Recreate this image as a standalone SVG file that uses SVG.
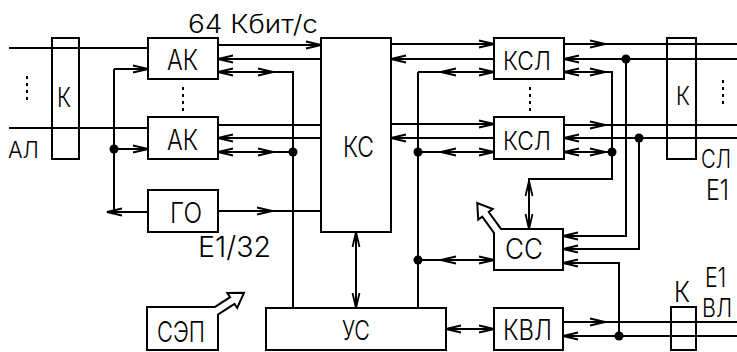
<svg xmlns="http://www.w3.org/2000/svg" xmlns:xlink="http://www.w3.org/1999/xlink" width="737" height="352" viewBox="0 0 737 352">
<style>
.b{fill:#fff;stroke:#000;stroke-width:2}
.k{fill:none;stroke:#000;stroke-width:2}
.w{fill:#fff;stroke:none}
.l{fill:none;stroke:#000;stroke-width:2}
.h{fill:none;stroke:#000;stroke-width:1.8}
.d{fill:#000}
text{font-family:"Inter","Roboto","Liberation Sans","DejaVu Sans",sans-serif;font-weight:300;fill:#000}
</style>
<defs>
<path id="ar" class="h" d="M-15,-3.5 L0,0 L-15,3.5"/>
<path id="al" class="h" d="M15,-3.5 L0,0 L15,3.5"/>
<path id="au" class="h" d="M-3.5,15 L0,0 L3.5,15"/>
<path id="ad" class="h" d="M-3.5,-15 L0,0 L3.5,-15"/>
<path id="ha" d="M0,-4 H23 V-9 L37,0 L23,9 V4 H0 Z" fill="#fff" stroke="#000" stroke-width="2"/>
</defs>
<rect width="737" height="352" fill="#fff"/>

<g id="connectors">
<path class="l" d="M9,48 H148 M9,128 H148 M114,69 H148 M114,69 V212 M107,212 H148 M114,149 H148 M218,211 H321
M218,45 H321 M218,59 H321 M218,72 H293 V308 M218,125 H321 M218,138 H321 M218,152 H293
M391,44 H494 M391,59 H494 M418,72 H494 M418,72 V308 M391,124 H494 M391,138 H494 M418,152 H494
M564,44 H737 M564,59 H737 M564,72 H612 V179 H529 V229 M564,125 H737 M564,138 H737 M564,152 H612
M626,59 V236 H563 M639,138 V249 H563 M619,336 V263 H563
M418,260 H494 M356,232 V308 M446,329 H494 M563,322 H737 M563,336 H737"/>
<use xlink:href="#ar" x="148" y="69"/>
<use xlink:href="#ar" x="148" y="149"/>
<use xlink:href="#al" x="107" y="212"/>
<use xlink:href="#ar" x="272" y="211"/>
<use xlink:href="#ar" x="321" y="45"/>
<use xlink:href="#al" x="218" y="59"/>
<use xlink:href="#al" x="218" y="72"/>
<use xlink:href="#ar" x="273" y="72"/>
<use xlink:href="#al" x="218" y="138"/>
<use xlink:href="#al" x="218" y="152"/>
<use xlink:href="#ar" x="273" y="152"/>
<use xlink:href="#ar" x="494" y="44"/>
<use xlink:href="#al" x="391" y="59"/>
<use xlink:href="#al" x="441" y="72"/>
<use xlink:href="#ar" x="494" y="72"/>
<use xlink:href="#ar" x="494" y="124"/>
<use xlink:href="#al" x="391" y="138"/>
<use xlink:href="#al" x="441" y="152"/>
<use xlink:href="#ar" x="494" y="152"/>
<use xlink:href="#ar" x="605" y="44"/>
<use xlink:href="#al" x="564" y="59"/>
<use xlink:href="#al" x="564" y="72"/>
<use xlink:href="#ar" x="605" y="72"/>
<use xlink:href="#ar" x="605" y="125"/>
<use xlink:href="#al" x="564" y="138"/>
<use xlink:href="#al" x="564" y="152"/>
<use xlink:href="#ar" x="605" y="152"/>
<use xlink:href="#au" x="529" y="181"/>
<use xlink:href="#ad" x="529" y="229"/>
<use xlink:href="#al" x="563" y="236"/>
<use xlink:href="#al" x="563" y="249"/>
<use xlink:href="#al" x="563" y="263"/>
<use xlink:href="#al" x="441" y="260"/>
<use xlink:href="#ar" x="494" y="260"/>
<use xlink:href="#au" x="356" y="232"/>
<use xlink:href="#ad" x="356" y="308"/>
<use xlink:href="#al" x="446" y="329"/>
<use xlink:href="#ar" x="494" y="329"/>
<use xlink:href="#ar" x="605" y="322"/>
<use xlink:href="#al" x="563" y="336"/>
<circle class="d" cx="114" cy="149" r="4.5"/>
<circle class="d" cx="293" cy="152" r="4.5"/>
<circle class="d" cx="418" cy="152" r="4.5"/>
<circle class="d" cx="418" cy="260" r="4.5"/>
<circle class="d" cx="626" cy="59" r="4.5"/>
<circle class="d" cx="612" cy="152" r="4.5"/>
<circle class="d" cx="639" cy="138" r="4.5"/>
<circle class="d" cx="619" cy="336" r="4.5"/>
</g>

<g id="K1"><rect class="k" x="52" y="38" width="27" height="121"/><text x="57" y="107" font-size="27" textLength="14" lengthAdjust="spacingAndGlyphs">К</text></g>
<g id="AK1"><rect class="b" x="148" y="38" width="70" height="41"/><text x="167" y="70" font-size="28" textLength="31" lengthAdjust="spacingAndGlyphs">АК</text></g>
<g id="AK2"><rect class="b" x="148" y="117" width="70" height="42"/><text x="167" y="150" font-size="28" textLength="31" lengthAdjust="spacingAndGlyphs">АК</text></g>
<g id="GO"><rect class="b" x="148" y="190" width="70" height="42"/><text x="170" y="223" font-size="28" textLength="32" lengthAdjust="spacingAndGlyphs">ГО</text></g>
<g id="SEP"><rect class="b" x="147" y="307" width="71" height="43"/><use xlink:href="#ha" transform="translate(213,313) rotate(-33)"/><rect class="w" x="148" y="308" width="69" height="41"/><text x="157" y="342" font-size="29" textLength="48" lengthAdjust="spacingAndGlyphs">СЭП</text></g>
<g id="KS"><rect class="b" x="321" y="38" width="70" height="194"/><text x="343" y="157" font-size="29" textLength="31" lengthAdjust="spacingAndGlyphs">КС</text></g>
<g id="US"><rect class="b" x="266" y="308" width="180" height="42"/><text x="342" y="340" font-size="27" textLength="28" lengthAdjust="spacingAndGlyphs">УС</text></g>
<g id="KSL1"><rect class="b" x="494" y="38" width="70" height="41"/><text x="503" y="70" font-size="26" textLength="48" lengthAdjust="spacingAndGlyphs">КСЛ</text></g>
<g id="KSL2"><rect class="b" x="494" y="117" width="70" height="42"/><text x="503" y="150" font-size="26" textLength="48" lengthAdjust="spacingAndGlyphs">КСЛ</text></g>
<g id="CC"><rect class="b" x="494" y="229" width="69" height="41"/><use xlink:href="#ha" transform="translate(499,233) rotate(-126)"/><rect class="w" x="495" y="230" width="67" height="39"/><text x="505" y="259" font-size="28" textLength="38" lengthAdjust="spacingAndGlyphs">СС</text></g>
<g id="KVL"><rect class="b" x="494" y="308" width="69" height="42"/><text x="503" y="340" font-size="29" textLength="49" lengthAdjust="spacingAndGlyphs">КВЛ</text></g>
<g id="K2"><rect class="k" x="667" y="38" width="29" height="121"/><text x="676" y="105" font-size="25" textLength="14" lengthAdjust="spacingAndGlyphs">К</text></g>
<g id="K3"><rect class="k" x="671" y="307" width="25" height="43"/><text x="674" y="302" font-size="28" textLength="16" lengthAdjust="spacingAndGlyphs">К</text></g>

<g id="dots" fill="none" stroke="#000" stroke-width="2" stroke-dasharray="3,4">
<path d="M27,76 V101 M183,87 V111 M530,87 V111 M723,80 V104"/>
</g>

<g id="labels">
<text x="188" y="33" font-size="25" textLength="130" lengthAdjust="spacingAndGlyphs">64 Кбит/с</text>
<text x="8" y="158" font-size="23" textLength="31" lengthAdjust="spacingAndGlyphs">АЛ</text>
<text x="701" y="168" font-size="25" textLength="30" lengthAdjust="spacingAndGlyphs">СЛ</text>
<text x="706" y="200" font-size="28" textLength="23" lengthAdjust="spacingAndGlyphs">E1</text>
<text x="198" y="257" font-size="29" textLength="73" lengthAdjust="spacingAndGlyphs">E1/32</text>
<text x="705" y="287" font-size="27" textLength="21" lengthAdjust="spacingAndGlyphs">E1</text>
<text x="702" y="317" font-size="26" textLength="30" lengthAdjust="spacingAndGlyphs">ВЛ</text>
</g>
</svg>
